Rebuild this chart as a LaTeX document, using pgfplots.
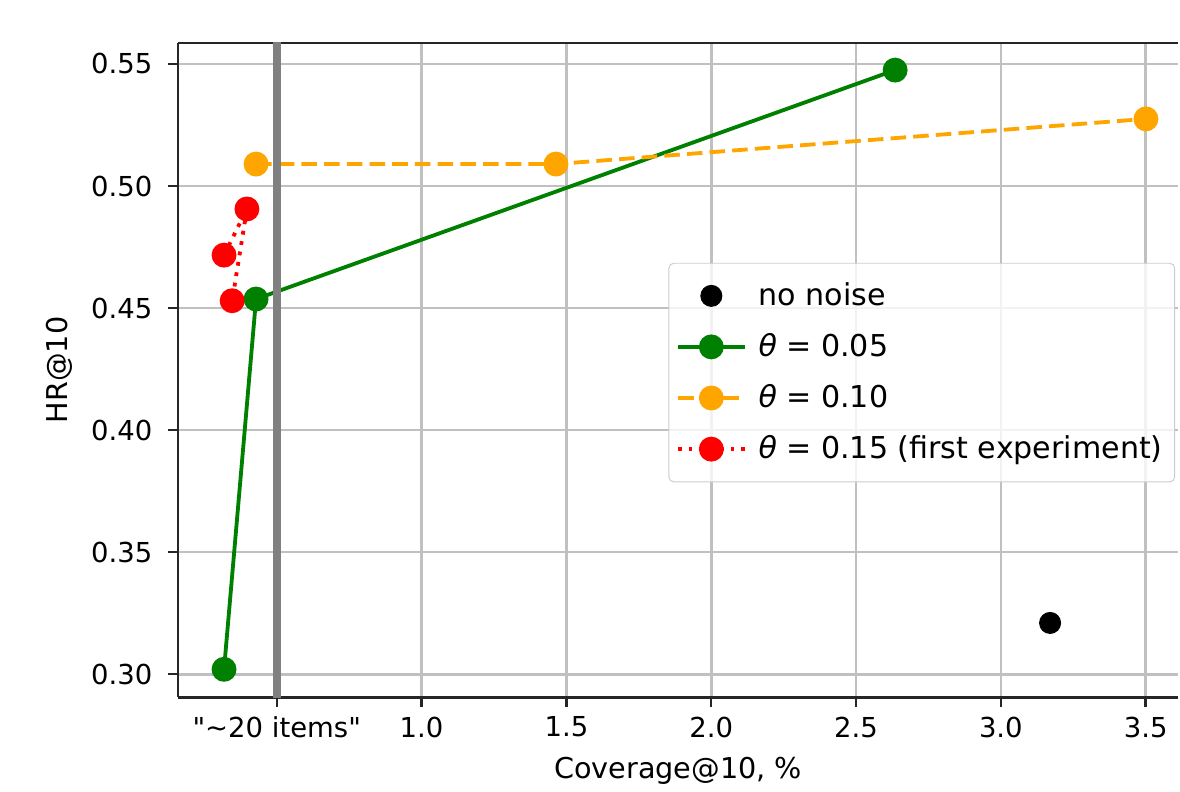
\documentclass[border=0pt]{standalone}
\usepackage{fontspec}
\setmainfont{DejaVu Sans}
\usepackage{pgfplots}
\pgfplotsset{compat=1.18}
\definecolor{mplgreen}{HTML}{008000}
\definecolor{mplorange}{HTML}{FFA500}
\definecolor{mplred}{HTML}{FF0000}
\definecolor{gridgray}{HTML}{C0C0C0}
\begin{document}
\fontsize{11.5}{13.8}\selectfont
\begin{tikzpicture}[font=\fontsize{11.5}{13.8}\selectfont]
\useasboundingbox (-74.5pt,-39.3pt) rectangle (419.4pt,291.8pt);
\begin{axis}[
  scale only axis, width=418.6pt, height=273.8pt,
  xmin=0.159, xmax=3.612, ymin=0.2906, ymax=0.5586,
  axis x line*=box, axis y line*=left,
  tick pos=left, tick align=outside,
  major tick length=4.2pt,
  every tick/.style={black!85, line width=1pt},
  axis line style={black!85, line width=1.2pt},
  grid=major, major grid style={gridgray, line width=1.1pt},
  xtick={0.5,1,1.5,2,2.5,3,3.5},
  xticklabels={\textquotedbl\textasciitilde20 items\textquotedbl,1.0,1.5,2.0,2.5,3.0,3.5},
  ytick={0.30,0.35,0.40,0.45,0.50,0.55},
  yticklabel style={xshift=-2.5pt, /pgf/number format/.cd, fixed, fixed zerofill, precision=2},
  /pgf/number format/assume math mode=true,
  xlabel={Coverage@10, \%}, ylabel={HR@10},
  label style={font=\fontsize{12}{14.4}\selectfont},
  legend cell align=left,
  legend style={at={(0.997,0.664)}, anchor=north east, draw=black!20,
    rounded corners=2pt, fill=white, fill opacity=0.8, text opacity=1,
    font=\fontsize{12.6}{15}\selectfont,
    row sep=6pt, column sep=3pt, inner xsep=3pt, inner ysep=6pt},
  legend image code/.code={\draw[mark repeat=2,mark phase=2,#1,fill opacity=1,draw opacity=1] plot coordinates {(0cm,0cm)(0.49cm,0cm)(0.98cm,0cm)};},
  mark size=4.4pt,
]
\addplot[only marks, mark=*, black, mark options={draw=black, fill=black}] coordinates {(3.170,0.321)};
\addlegendentry{no noise}
\addplot[mplgreen, line width=1.6pt, mark=*, mark options={solid, fill=mplgreen, draw=mplgreen}] coordinates {(0.318,0.302) (0.4285,0.4537) (2.635,0.5475)};
\addlegendentry{{\itshape θ} = 0.05}
\addplot[mplorange, line width=1.6pt, dash pattern=on 6.5pt off 3pt, mark=*, mark options={solid, fill=mplorange, draw=mplorange}] coordinates {(0.4285,0.509) (1.464,0.509) (3.501,0.5275)};
\addlegendentry{{\itshape θ} = 0.10}
\addplot[mplred, line width=1.6pt, dash pattern=on 1.6pt off 2.8pt, mark=*, mark options={solid, fill=mplred, draw=mplred}] coordinates {(0.318,0.4717) (0.397,0.4906) (0.346,0.453)};
\addlegendentry{{\itshape θ} = 0.15 (first experiment)}
\addplot[gray, line width=3.4pt, forget plot] coordinates {(0.5,0.28) (0.5,0.57)};
\end{axis}
\end{tikzpicture}
\end{document}
